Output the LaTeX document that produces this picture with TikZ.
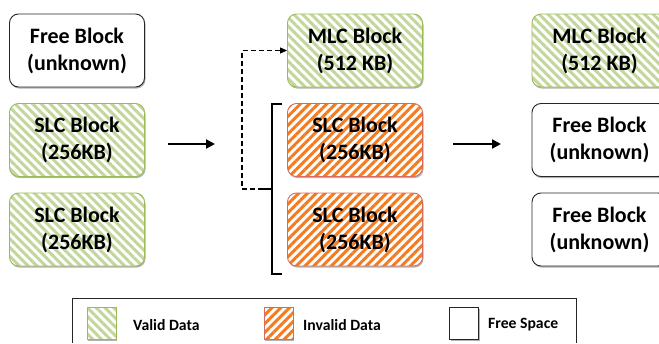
\documentclass[tikz,border=0pt]{standalone}
\usepackage{fontspec}
\setmainfont{Carlito}
\usetikzlibrary{patterns.meta,shadows,arrows.meta}

\definecolor{validfill}{HTML}{C3D69B}
\definecolor{validline}{HTML}{9BBB59}
\definecolor{invalidfill}{HTML}{F47B20}
\definecolor{invalidline}{HTML}{D96B5C}

\tikzset{
  blockshadow/.style={drop shadow={shadow xshift=1pt,shadow yshift=-1.6pt,opacity=0.3,fill=black}},
  block/.style={rounded corners=9pt, minimum width=135pt, minimum height=73pt,
    align=center, inner sep=0pt, text=black, line width=0.9pt,
    font=\fontsize{22}{27}\selectfont\bfseries, blockshadow},
  validstripes/.style={preaction={fill=white},
    pattern={Lines[angle=-45,distance=6.2pt,line width=3pt]}, pattern color=validfill},
  invalidstripes/.style={preaction={fill=white},
    pattern={Lines[angle=45,distance=6.2pt,line width=3pt]}, pattern color=invalidfill},
  validblock/.style={block, draw=validline, validstripes},
  invalidblock/.style={block, draw=invalidline, invalidstripes},
  freeblock/.style={block, draw=black!85, fill=white},
  swatch/.style={minimum width=29pt, minimum height=32pt, inner sep=0pt, line width=0.8pt, blockshadow},
  legendtext/.style={anchor=west, inner sep=0pt, font=\fontsize{15.7}{18}\selectfont\bfseries, text=black},
  flow/.style={line width=2pt, -{Triangle[length=9pt,width=9pt]}},
  bracket/.style={line width=1.4pt},
  link/.style={line width=1.1pt, dash pattern=on 5pt off 3pt, -{Triangle[length=7pt,width=6pt]}}
}

\begin{document}
\begin{tikzpicture}[x=1pt,y=-1pt]
\useasboundingbox (0,0) rectangle (659,343);
\clip (0,0) rectangle (659,343);

% before: one free block and two SLC blocks holding valid data
\node[freeblock]  (f1) at (77,50.5)  {Free Block\\(unknown)};
\node[validblock] (s1) at (77,140)   {SLC Block\\(256KB)};
\node[validblock] (s2) at (77,229.5) {SLC Block\\(256KB)};

% during: data copied into the MLC block, SLC blocks invalidated
\node[validblock]   (m1) at (355,50.5)  {MLC Block\\(512 KB)};
\node[invalidblock] (s3) at (355,140)   {SLC Block\\(256KB)};
\node[invalidblock] (s4) at (355,229.5) {SLC Block\\(256KB)};

% after: the SLC blocks are erased
\node[validblock] (m2) at (599.5,50.5)  {MLC Block\\(512 KB)};
\node[freeblock]  (f2) at (599.5,140)   {Free Block\\(unknown)};
\node[freeblock]  (f3) at (599.5,229.5) {Free Block\\(unknown)};

% step arrows
\coordinate (a1s) at (168,144);
\coordinate (a1e) at (215,144);
\coordinate (a2s) at (453,144);
\coordinate (a2e) at (501,144);
\draw[flow] (a1s) -- (a1e);
\draw[flow] (a2s) -- (a2e);

% bracket grouping the two SLC blocks
\coordinate (bt)  at (282,104);
\coordinate (bb)  at (282,274);
\coordinate (bm)  at (272,189);
\coordinate (brk) at (263,189);
\draw[bracket] (bt) -- (272,104) -- (272,274) -- (bb);
\draw[bracket] (bm) -- (brk);

% migration link into the MLC block
\coordinate (dc) at (242,189);
\draw[link] (brk) -- (dc) |- (m1.west);

% legend
\draw[line width=0.9pt, black!85] (72,343) -- (72,298) -- (576,298) -- (576,343);
\node[swatch, draw=validline, validstripes]     (lv) at (101.5,323) {};
\node[swatch, draw=invalidline, invalidstripes] (li) at (278.5,323) {};
\node[swatch, draw=black!85, fill=white]        (lf) at (464,323)   {};
\node[legendtext] (tv) at (133,325) {Valid Data};
\node[legendtext] (ti) at (303,325) {Invalid Data};
\node[legendtext] (tf) at (488,325) {Free Space};
\end{tikzpicture}
\end{document}
